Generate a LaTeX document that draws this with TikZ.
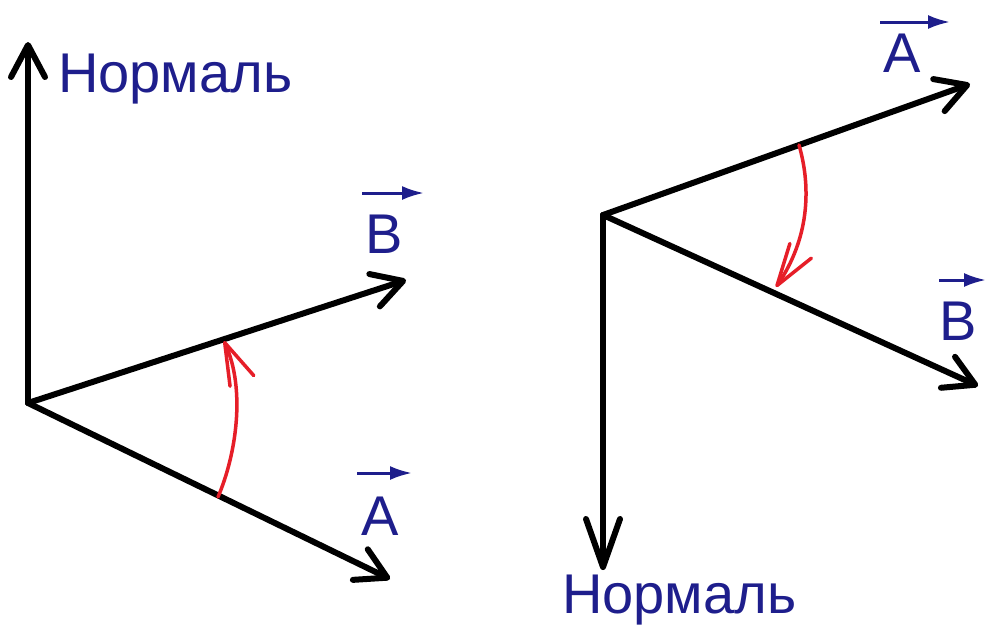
\documentclass[tikz,border=0pt]{standalone}
\usepackage{fontspec}
\setmainfont{Liberation Sans}
\usetikzlibrary{arrows.meta}
\definecolor{lblblue}{RGB}{30,30,140}
\definecolor{arcred}{RGB}{230,30,40}
\tikzset{
  vec/.style={line width=6pt, line cap=round, line join=round, black},
  barb/.style={-{Straight Barb[length=#1, width=34pt, line width=6pt, round]}},
  arcarrow/.style={line width=3.5pt, arcred, line cap=round, -{Straight Barb[length=42pt, width=26pt, line width=3.5pt, round]}},
  lbl/.style={text=lblblue, font=\fontsize{56}{60}\selectfont, inner sep=0pt},
  overarrow/.style={lblblue, line width=3pt, -{Latex[length=22pt, width=14pt]}}
}
\begin{document}
\begin{tikzpicture}[x=1pt, y=-1pt]
\useasboundingbox[fill=white] (0,0) rectangle (987,632);
% left diagram
\coordinate (O1) at (28,403);
\coordinate (N1) at (28,42);
\coordinate (B1) at (406,280);
\coordinate (A1) at (390,579);
\draw[vec, barb=32pt] (O1) -- (N1);
\draw[vec, barb=30pt] (O1) -- (B1);
\draw[vec, barb=30pt] (O1) -- (A1);
\coordinate (a1s) at (218,497);
\coordinate (a1e) at (224,341);
\draw[arcarrow] (a1s) .. controls (236,455) and (246,390) .. (a1e);
\node[lbl, anchor=base west] (tN1) at (58,92) {Нормаль};
\node[lbl, anchor=base] (tB1) at (384,253) {B};
\node[lbl, anchor=base] (tA1) at (380,535) {A};
\coordinate (vB1s) at (362,193); \coordinate (vB1e) at (424,193);
\coordinate (vA1s) at (357,473); \coordinate (vA1e) at (412,473);
\draw[overarrow] (vB1s) -- (vB1e);
\draw[overarrow] (vA1s) -- (vA1e);
% right diagram
\coordinate (O2) at (603,215);
\coordinate (N2) at (603,570);
\coordinate (A2) at (970,84);
\coordinate (B2) at (978,386);
\draw[vec, barb=48pt] (O2) -- (N2);
\draw[vec, barb=30pt] (O2) -- (A2);
\draw[vec, barb=30pt] (O2) -- (B2);
\coordinate (a2s) at (799,145);
\coordinate (a2e) at (776,287);
\draw[arcarrow] (a2s) .. controls (812,190) and (808,240) .. (a2e);
\node[lbl, anchor=base west] (tN2) at (562,613) {Нормаль};
\node[lbl, anchor=base] (tA2) at (902,72) {A};
\node[lbl, anchor=base] (tB2) at (958,340) {B};
\coordinate (vA2s) at (880,22); \coordinate (vA2e) at (950,22);
\coordinate (vB2s) at (939,280); \coordinate (vB2e) at (986,280);
\draw[overarrow] (vA2s) -- (vA2e);
\draw[overarrow] (vB2s) -- (vB2e);
\end{tikzpicture}
\end{document}
